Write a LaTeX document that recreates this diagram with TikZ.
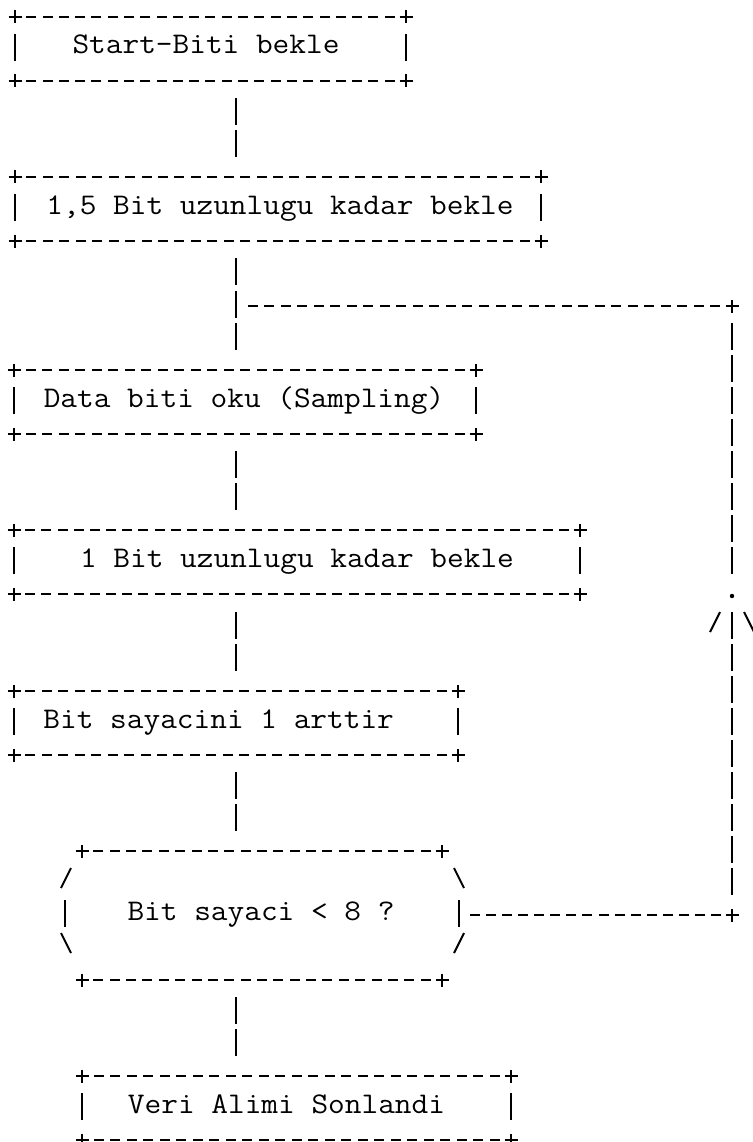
\documentclass[tikz,border=0pt]{standalone}
\usepackage{fontspec}
\begin{document}
% Text-terminal style flowchart: borders built from "+", "-", "|", "/", "\" strokes
\newcommand\Yr[1]{\pgfmathsetmacro\yy{round(16.6+32.1*(#1-1))}}
\newcommand\plusat[2]{\Yr{#2}\draw[glyph] (#1-6.5,\yy) -- (#1+6.5,\yy) (#1,\yy-6.5) -- (#1,\yy+6.5);}
\newcommand\vbarat[2]{\Yr{#2}\draw[glyph] (#1,\yy-15) -- (#1,\yy+12);}
\newcommand\slashat[2]{\Yr{#2}\draw[glyph] (#1-5,\yy+5) -- (#1+5,\yy-15);}
\newcommand\bslashat[2]{\Yr{#2}\draw[glyph] (#1-5,\yy-15) -- (#1+5,\yy+5);}
\newcommand\dashrun[3]{%
  \Yr{#3}%
  \pgfmathtruncatemacro\nd{round((#2-#1)/16.4)-1}%
  \pgfmathsetmacro\st{(#2-#1)/(\nd+1)}%
  \foreach \k in {1,...,\nd}{%
    \pgfmathsetmacro\dc{round(#1+\k*\st)}%
    \draw[dashg] (\dc-5,\yy) -- (\dc+5,\yy);}}
\newcommand\hborder[3]{\plusat{#1}{#3}\plusat{#2}{#3}\dashrun{#1}{#2}{#3}}
\newcommand\asciibox[3]{% left x, right x, top row
  \pgfmathtruncatemacro\rmid{#3+1}\pgfmathtruncatemacro\rbot{#3+2}%
  \hborder{#1}{#2}{#3}%
  \vbarat{#1}{\rmid}\vbarat{#2}{\rmid}%
  \hborder{#1}{#2}{\rbot}}
\newcommand\lblat[4]{\Yr{#3}\node[lbl] (#1) at (#2,\yy+5) {\scalebox{1.08}[1]{#4}};}
\begin{tikzpicture}[x=1pt,y=-1pt,
  glyph/.style={line width=2pt,line cap=butt},
  dashg/.style={line width=2pt,line cap=butt},
  lbl/.style={inner sep=0pt,anchor=base,
    font=\fontsize{30}{30}\selectfont\ttfamily\addfontfeature{FakeBold=0.9}}]
\useasboundingbox (0,0) rectangle (752,1142);
\fill[white] (0,0) rectangle (752,1142);

% process boxes
\asciibox{15}{406}{1}
\asciibox{15}{541}{6}
\asciibox{14}{476}{12}
\asciibox{14}{580}{17}
\asciibox{14}{458}{22}
\asciibox{82}{511}{34}

% decision box
\hborder{82}{442}{27}
\slashat{66}{28}\bslashat{459}{28}
\vbarat{65}{29}\vbarat{459}{29}
\bslashat{66}{30}\slashat{459}{30}
\hborder{82}{442}{31}

% labels
\lblat{t1}{206}{2}{Start-Biti bekle}
\lblat{t2}{280}{7}{1,5 Bit uzunlugu kadar bekle}
\lblat{t3}{244}{13}{Data biti oku (Sampling)}
\lblat{t4}{297}{18}{1 Bit uzunlugu kadar bekle}
\lblat{t5}{218.7}{23}{Bit sayacini 1 arttir}
\lblat{t6}{261}{29}{Bit sayaci < 8 ?}
\lblat{t7}{286.5}{35}{Veri Alimi Sonlandi}

% main flow
\foreach \r in {4,5,9,10,11,15,16,20,21,25,26,32,33}{\vbarat{236}{\r}}

% loop back from the decision to the sampling step
\dashrun{236}{732}{10}\plusat{732}{10}
\foreach \r in {11,...,18,20,21,...,28}{\vbarat{732}{\r}}
\dashrun{459}{732}{29}\plusat{732}{29}
\fill (732,596) circle (2.2);
\slashat{715}{20}\bslashat{749}{20}
\end{tikzpicture}
\end{document}
